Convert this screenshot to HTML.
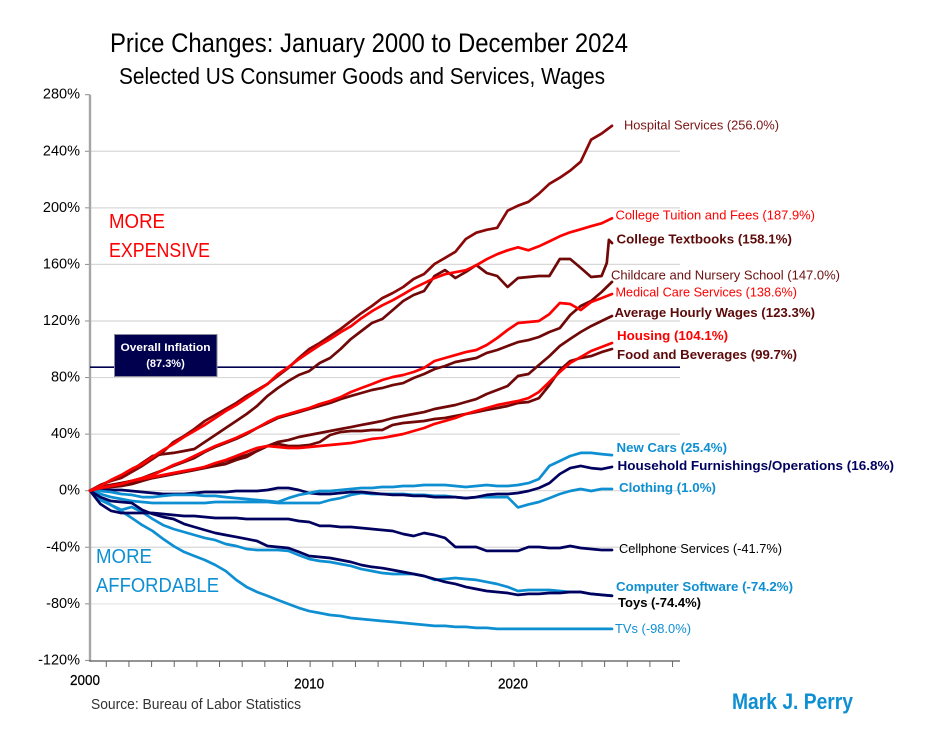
<!DOCTYPE html>
<html lang="en">
<head>
<meta charset="utf-8">
<title>Price Changes: January 2000 to December 2024</title>
<style>
  html,body{margin:0;padding:0;background:#fff;}
  svg{display:block;font-family:"Liberation Sans",sans-serif;}
</style>
</head>
<body>
<svg id="chart" xmlns="http://www.w3.org/2000/svg" width="936" height="744" viewBox="0 0 936 744">
  <rect x="0" y="0" width="936" height="744" fill="#ffffff"/>
  <text x="110" y="52" font-size="27" fill="#000" textLength="518" lengthAdjust="spacingAndGlyphs">Price Changes: January 2000 to December 2024</text>
  <text x="119" y="84" font-size="23" fill="#000" textLength="486" lengthAdjust="spacingAndGlyphs">Selected US Consumer Goods and Services, Wages</text>

  <g id="grid"></g>
  <g id="axes"></g>
  <g id="series"></g>

  <g>
    <rect x="114.5" y="334.5" width="102.5" height="42" fill="#00004f" stroke="#8a8a9a" stroke-width="1"/>
    <text x="165.5" y="351" font-size="11" font-weight="bold" fill="#fff" text-anchor="middle" textLength="90" lengthAdjust="spacingAndGlyphs">Overall Inflation</text>
    <text x="165.5" y="367" font-size="11" font-weight="bold" fill="#fff" text-anchor="middle">(87.3%)</text>
  </g>

  <text x="109" y="228" font-size="20" fill="#ff0000" textLength="56" lengthAdjust="spacingAndGlyphs">MORE</text>
  <text x="109" y="257" font-size="20" fill="#ff0000" textLength="101" lengthAdjust="spacingAndGlyphs">EXPENSIVE</text>
  <text x="96" y="563" font-size="20" fill="#0e8fd2" textLength="56" lengthAdjust="spacingAndGlyphs">MORE</text>
  <text x="96" y="592" font-size="20" fill="#0e8fd2" textLength="123" lengthAdjust="spacingAndGlyphs">AFFORDABLE</text>

  <g>
    <text x="624" y="129.5" font-size="12.5" fill="#7a1414" textLength="155" lengthAdjust="spacingAndGlyphs">Hospital Services  (256.0%)</text>
    <text x="615.5" y="219.5" font-size="12.5" fill="#ff0000" textLength="199.5" lengthAdjust="spacingAndGlyphs">College Tuition and Fees  (187.9%)</text>
    <text x="616.5" y="243.5" font-size="12.5" font-weight="bold" fill="#5c0a0a" textLength="175.5" lengthAdjust="spacingAndGlyphs">College Textbooks (158.1%)</text>
    <text x="611" y="279.5" font-size="12.5" fill="#6b1010" textLength="229" lengthAdjust="spacingAndGlyphs">Childcare and Nursery School  (147.0%)</text>
    <text x="615.5" y="296.5" font-size="12.5" fill="#ff0000" textLength="181.5" lengthAdjust="spacingAndGlyphs">Medical Care Services  (138.6%)</text>
    <text x="614.5" y="317" font-size="12.5" font-weight="bold" fill="#5c0a0a" textLength="200.5" lengthAdjust="spacingAndGlyphs">Average Hourly Wages (123.3%)</text>
    <text x="617" y="340" font-size="12.5" font-weight="bold" fill="#ff0000" textLength="111" lengthAdjust="spacingAndGlyphs">Housing (104.1%)</text>
    <text x="617" y="359" font-size="12.5" font-weight="bold" fill="#5c0a0a" textLength="180" lengthAdjust="spacingAndGlyphs">Food and Beverages (99.7%)</text>
    <text x="616.5" y="452" font-size="12.5" font-weight="bold" fill="#0e8fd2" textLength="110.5" lengthAdjust="spacingAndGlyphs">New Cars (25.4%)</text>
    <text x="617.5" y="470" font-size="12.5" font-weight="bold" fill="#00005e" textLength="276.5" lengthAdjust="spacingAndGlyphs">Household Furnishings/Operations (16.8%)</text>
    <text x="619" y="492" font-size="12.5" font-weight="bold" fill="#0e8fd2" textLength="97" lengthAdjust="spacingAndGlyphs">Clothing (1.0%)</text>
    <text x="619" y="553" font-size="12.5" fill="#000" textLength="163" lengthAdjust="spacingAndGlyphs">Cellphone Services  (-41.7%)</text>
    <text x="616" y="591" font-size="12.5" font-weight="bold" fill="#0e8fd2" textLength="177" lengthAdjust="spacingAndGlyphs">Computer Software (-74.2%)</text>
    <text x="618" y="607" font-size="12.5" font-weight="bold" fill="#000" textLength="83" lengthAdjust="spacingAndGlyphs">Toys (-74.4%)</text>
    <text x="615" y="633" font-size="12.5" fill="#0e8fd2" textLength="76" lengthAdjust="spacingAndGlyphs">TVs  (-98.0%)</text>
  </g>

  <text x="91" y="709" font-size="14.5" fill="#333" textLength="210" lengthAdjust="spacingAndGlyphs">Source: Bureau of Labor Statistics</text>
  <text x="732" y="709" font-size="22" font-weight="bold" fill="#0e8fd2" textLength="121" lengthAdjust="spacingAndGlyphs">Mark J. Perry</text>
</svg>

<script>
const yTickValues = [280, 240, 200, 160, 120, 80, 40, 0, -40, -80, -120];
const yTickLabels = ['280%', '240%', '200%', '160%', '120%', '80%', '40%', '0%', '-40%', '-80%', '-120%'];
const xTickLabels = ['2000', '2010', '2020'];
const xTickLabelSlots = [-1, 9, 18];
const overallInflation = [87.3];

const years = [2000,2000.5,2001,2001.5,2002,2002.5,2003,2003.5,2004,2004.5,2005,2005.5,2006,2006.5,2007,2007.5,2008,2008.5,2009,2009.5,2010,2010.5,2011,2011.5,2012,2012.5,2013,2013.5,2014,2014.5,2015,2015.5,2016,2016.5,2017,2017.5,2018,2018.5,2019,2019.5,2020,2020.5,2021,2021.5,2022,2022.5,2023,2023.5,2024,2024.5,2025];
const textbookYears = [2000,2000.5,2001,2001.5,2002,2002.5,2003,2003.5,2004,2004.5,2005,2005.5,2006,2006.5,2007,2007.5,2008,2008.5,2009,2009.5,2010,2010.5,2011,2011.5,2012,2012.5,2013,2013.5,2014,2014.5,2015,2015.5,2016,2016.5,2017,2017.5,2018,2018.5,2019,2019.5,2020,2020.5,2021,2021.5,2022,2022.5,2023,2023.5,2024,2024.5,2024.75,2024.85,2025];

const hospital = [0,4,6.9,9,13.2,17.5,22.4,27.4,34.4,38.7,43.6,49.3,53.5,57.8,62,67,71.2,75.5,81.2,86.8,93.8,100.2,104.4,109.4,114.3,120,125.6,130.6,136.2,139.8,144,149.7,153.2,160.3,164.6,168.9,178,182.4,184.5,185.9,198,201.5,204.3,210,217,221.3,226.3,232.6,248.2,252.5,258];
const tuition = [0,3.3,7.6,11.1,15.4,18.9,23.8,28.8,33,38,42.2,46.5,51.4,56.3,60.5,65.5,70.4,75.4,82.4,87.4,93,98,102.9,107.2,112.1,116.3,122,126.9,131.1,134.7,138.9,143.2,146.7,150.3,153.1,154.5,155.9,159.4,163.7,167.2,170,172.1,170,172.8,176.3,179.9,182.7,184.8,187,189.1,192.6];
const textbooks = [0,4,6.9,9.7,14.6,19.6,24.5,25.9,26.7,28.1,29.5,34.4,39.4,44.3,49.3,54.2,59.9,67,72.6,77.6,81.8,84.6,90.3,93.8,100.2,107.3,112.9,118.6,121.4,127.8,134.1,138.4,141.2,151.8,156,150.4,154.6,159.6,153.9,151.8,144,150.4,151.1,151.8,151.8,163.8,163.8,157.5,151.1,151.8,161,177.3,175.1];
const childcare = [0,2.6,4,5.4,6.9,9,11.8,14.6,17.5,20.3,23.1,27.4,30.9,33.7,36.6,40.1,44.3,47.9,51.4,53.5,55.6,57.8,59.9,62,64.8,67,69.1,71.2,72.6,74.7,76.1,79.7,82.5,86,88.2,91,92.4,93.8,97.4,99.5,102.3,105.1,106.5,108.7,112.2,115,124.2,130.6,134.1,140.5,147.6];
const medical = [0,1.9,3.3,4.7,6.9,9,11.1,14.6,18.2,21,24.5,28.1,31.6,34.4,37.3,40.8,44.3,48.6,52.1,54.2,56.4,58.5,61.3,63.4,66.2,69.8,72.6,75.4,78.3,80.4,81.8,83.9,86.8,91.7,93.8,95.9,98,99.5,103,108,113.6,118.6,119.3,120,124.9,132.7,132,127.8,133.4,136.2,139.1];
const wages = [0,1.9,3.3,4.7,6.1,7.6,9,10.4,11.8,13.2,14.6,16.8,18.9,21,23.1,25.2,28.1,31.6,34.4,35.8,38,39.4,40.8,42.2,43.6,45,46.5,47.9,49.3,51.4,52.8,54.2,55.6,57.8,59.2,60.6,62.7,64.8,68.4,71.2,74,81.1,82.5,88.9,95.2,102.3,107.3,112.2,116.4,120,123.5];
const food = [0,1.9,2.6,3.3,4.7,6.9,9,10.4,11.8,13.2,14.6,16,17.5,18.9,21.7,23.8,28.1,31.6,33,31.6,31.6,32.3,34.4,39.4,41.5,42.2,42.2,42.9,42.9,46.5,47.9,48.6,49.3,50.7,51.4,52.8,54.2,55.6,57.1,58.5,59.9,62,62.7,65.5,74.7,85.3,91.7,93.8,95.2,98,100.2];
const housing = [0,2.6,4,5.4,6.9,8.3,9.7,11.1,12.5,13.9,15.3,16.8,19.6,21.7,24.5,27.4,30.2,31.6,30.9,30.2,30.2,30.9,31.6,32.3,33,33.7,35.1,36.6,37.3,38.7,40.1,42.2,44.3,47.2,49.3,51.4,54.2,56.4,58.5,60.6,62,63.4,65.5,69.8,76.9,83.9,90.3,94.5,98.8,101.6,104.4];
const newCars = [0,-0.2,-0.9,-2.3,-3,-4.5,-4.5,-3.7,-3,-3,-3,-3.7,-3.7,-4.5,-5.2,-5.9,-6.6,-7.3,-8,-5.2,-3,-1.6,-0.2,-0.2,0.5,1.2,1.9,1.9,2.6,2.6,3.3,3.3,4,4,4,3.3,2.6,3.3,4,3.3,3.3,4,5.4,8.3,17.5,21,24.5,26.7,26.7,25.9,25.2];
const clothing = [0,-2.3,-4.5,-5.9,-7.3,-8,-8.7,-8.7,-8.7,-8.7,-8.7,-8.7,-8,-8,-8,-8,-8,-8,-8.7,-8.7,-8.7,-8.7,-8.7,-6.6,-5.2,-3,-1.6,-2.3,-2.3,-2.3,-2.3,-3,-3,-3.7,-3.7,-4.5,-5.2,-4.5,-4.5,-4.5,-4.5,-11.8,-9.7,-8,-5.2,-2.3,-0.2,1.2,-0.2,1.2,1.2];
const household = [0,0.5,0.5,0.5,-0.2,-0.9,-1.6,-2.3,-2.3,-2.3,-1.6,-0.9,-0.9,-0.9,-0.2,-0.2,-0.2,0.5,1.9,1.9,0.5,-1.6,-2.3,-2.3,-1.6,-0.9,-0.9,-1.6,-2.3,-3,-3,-3.7,-3.7,-4.5,-4.5,-4.5,-5.2,-4.5,-3,-2.3,-2.3,-1.6,-0.2,1.9,5.4,11.8,16,17.5,16,15.3,16.8];
const cellphone = [0,-9.4,-14.2,-15.8,-15.8,-15.8,-15.8,-16.5,-17.2,-17.9,-17.9,-18.6,-19.3,-19.3,-19.3,-20,-20,-20,-20,-20,-21.4,-22.1,-24.9,-24.9,-25.7,-25.7,-26.4,-27.1,-27.8,-28.5,-30.6,-32,-29.9,-31.3,-33.4,-39.8,-39.8,-39.8,-42.6,-42.6,-42.6,-42.6,-39.8,-39.8,-40.5,-40.5,-39.1,-40.5,-41.2,-41.9,-41.9];
const software = [0,-6.6,-10.1,-13.6,-11.5,-15.1,-20,-24.3,-27.1,-29.2,-31.3,-33.4,-34.9,-37.7,-39.1,-41.2,-41.9,-41.9,-41.9,-42.6,-45.5,-48.3,-49.7,-50.4,-51.8,-53.2,-55.4,-56.8,-58.2,-58.9,-58.9,-58.9,-60.3,-63.1,-62.4,-61.7,-62.4,-63.1,-64.5,-66,-68,-70.9,-70.2,-70.2,-70.2,-70.9,-71.6,-71.6,-73,-73.7,-74.2];
const toys = [0,-4.5,-7.3,-8,-8.7,-13.6,-16.5,-18.6,-20,-23.5,-25.7,-27.8,-29.9,-31.3,-32.7,-34.1,-35.6,-39.1,-39.8,-40.5,-43.3,-46.2,-46.9,-47.6,-49,-50.4,-52.5,-53.9,-54.7,-56.1,-57.5,-58.9,-60.3,-62.4,-64.5,-65.9,-68,-69.5,-70.9,-71.6,-72.3,-73.7,-73,-73,-72.3,-72.3,-71.6,-71.6,-73,-73.7,-74.4];
const tvs = [0,-4.5,-10.1,-14.4,-19.3,-24.3,-28.5,-34.1,-39.1,-43.3,-46.2,-49,-52.5,-56.8,-63.1,-68.1,-71.6,-74.4,-77.3,-80.1,-82.9,-85.1,-86.5,-87.9,-88.6,-90,-90.7,-91.4,-92.1,-92.8,-93.5,-94.2,-94.9,-95.6,-95.6,-96.3,-96.3,-97,-97,-97.7,-97.7,-97.7,-97.7,-97.7,-97.7,-97.7,-97.7,-97.7,-97.7,-97.7,-97.7];

const NS = 'http://www.w3.org/2000/svg';
const X_ORIGIN = 90, X_PER_YEAR = 20.88, X_END = 680;
const Y_ZERO = 490.7, Y_PER_PCT = 1.4143;
const FIRST_TICK_YEAR = 2000.78, TICK_STEP_YEARS = 1.0848, TICK_COUNT = 26;

function xScale(year) { return X_ORIGIN + (year - 2000) * X_PER_YEAR; }
function yScale(pct) { return Y_ZERO - pct * Y_PER_PCT; }

function make(tag, attrs) {
  const el = document.createElementNS(NS, tag);
  for (const k in attrs) el.setAttribute(k, attrs[k]);
  return el;
}

const gridGroup = document.getElementById('grid');
const axesGroup = document.getElementById('axes');
const seriesGroup = document.getElementById('series');

yTickValues.forEach(function (v, i) {
  const y = yScale(v);
  if (v !== 280 && v !== -120) {
    const g = make('line', { x1: X_ORIGIN, x2: X_END, y1: y, y2: y, stroke: v === -80 ? '#e6e6e6' : '#d8d8d8', 'stroke-width': 1.2 });
    
    
    gridGroup.appendChild(g);
  }
  const tick = make('line', { x1: 85, x2: X_ORIGIN, y1: y, y2: y, stroke: '#8c8c8c', 'stroke-width': 1 });
  
  
  axesGroup.appendChild(tick);
  const label = make('text', { x: 80, y: y + 4, 'text-anchor': 'end', 'font-size': 14.5, fill: '#000' });
  
  
  label.textContent = yTickLabels[i];
  axesGroup.appendChild(label);
});

const yAxisLine = make('line', { x1: X_ORIGIN, x2: X_ORIGIN, y1: yScale(280), y2: yScale(-120) + 1, stroke: '#a6a6a6', 'stroke-width': 2.4 });


axesGroup.appendChild(yAxisLine);

const xAxisLine = make('line', { x1: X_ORIGIN - 1, x2: X_END, y1: 661, y2: 661, stroke: '#555', 'stroke-width': 1.2 });


axesGroup.appendChild(xAxisLine);

for (let i = 0; i < TICK_COUNT; i++) {
  const tx = xScale(FIRST_TICK_YEAR + i * TICK_STEP_YEARS);
  const t = make('line', { x1: tx, x2: tx, y1: 661, y2: 667, stroke: '#666', 'stroke-width': 1 });
  
  
  axesGroup.appendChild(t);
}

xTickLabels.forEach(function (txt, i) {
  const slot = xTickLabelSlots[i];
  const cx = slot < 0 ? xScale(2000) - 5 : xScale(FIRST_TICK_YEAR + slot * TICK_STEP_YEARS) - 1;
  const lab = make('text', { x: cx, y: slot < 0 ? 685 : 688.5, 'text-anchor': 'middle', 'font-size': 14.5, fill: '#000', 'stroke': '#000', 'stroke-width': 0.25, textLength: 30, lengthAdjust: 'spacingAndGlyphs' });
  
  
  lab.textContent = txt;
  axesGroup.appendChild(lab);
});

const inflationLine = make('line', { x1: X_ORIGIN, x2: X_END, y1: yScale(overallInflation[0]), y2: yScale(overallInflation[0]), stroke: '#00004f', 'stroke-width': 1.6 });


seriesGroup.appendChild(inflationLine);

function drawSeries(values, xs, color, name) {
  const pts = values.map(function (v, i) { return xScale(xs[i]).toFixed(1) + ',' + yScale(v).toFixed(1); }).join(' ');
  const line = make('polyline', { points: pts, fill: 'none', stroke: color, 'stroke-width': 2.7, 'stroke-linejoin': 'round', 'stroke-linecap': 'round' });
  
  
  seriesGroup.appendChild(line);
}

const DARK = '#8a0808', DEEP = '#700808', RED = '#ff0000', LIGHT = '#0e8fd2', NAVY = '#00005e';

drawSeries(tvs, years, LIGHT, 'line-tvs');
drawSeries(software, years, LIGHT, 'line-computer-software');
drawSeries(clothing, years, LIGHT, 'line-clothing');
drawSeries(household, years, NAVY, 'line-household-furnishings');
drawSeries(newCars, years, LIGHT, 'line-new-cars');
drawSeries(cellphone, years, NAVY, 'line-cellphone-services');
drawSeries(toys, years, NAVY, 'line-toys');
drawSeries(food, years, DEEP, 'line-food-beverages');
drawSeries(wages, years, DEEP, 'line-average-hourly-wages');
drawSeries(housing, years, RED, 'line-housing');
drawSeries(childcare, years, DEEP, 'line-childcare');
drawSeries(medical, years, RED, 'line-medical-care');
drawSeries(textbooks, textbookYears, DEEP, 'line-college-textbooks');
drawSeries(hospital, years, DARK, 'line-hospital-services');
drawSeries(tuition, years, RED, 'line-college-tuition');
</script>
</body>
</html>
